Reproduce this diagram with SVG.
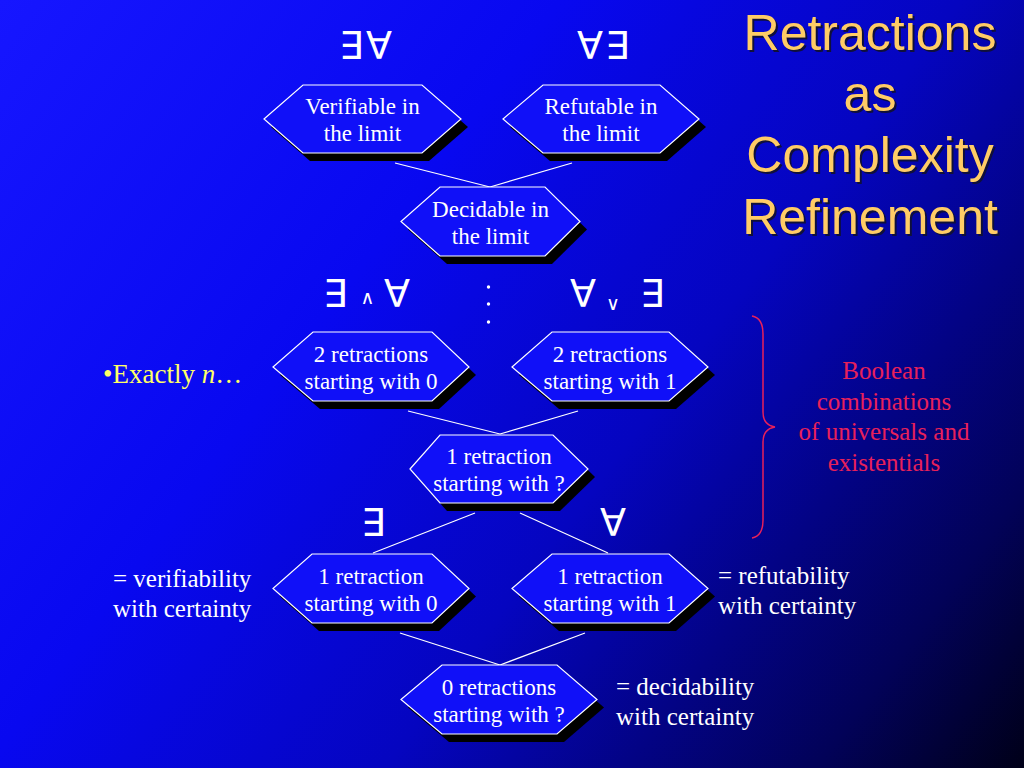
<svg xmlns="http://www.w3.org/2000/svg" width="1024" height="768" viewBox="0 0 1024 768">
<defs>
<linearGradient id="bg" gradientUnits="userSpaceOnUse" x1="0" y1="0" x2="1024" y2="768">
<stop offset="0" stop-color="#1616ff"/>
<stop offset="0.35" stop-color="#0808f0"/>
<stop offset="0.6" stop-color="#0505c0"/>
<stop offset="0.75" stop-color="#030385"/>
<stop offset="0.87" stop-color="#020258"/>
<stop offset="1" stop-color="#000018"/>
</linearGradient>
<style>
.hex{fill:#1010f8;stroke:#ffffff;stroke-width:1.2}
.sh{fill:#000000}
.nt{font-family:"Liberation Serif","Times New Roman",serif;font-size:23px;fill:#ffffff;text-anchor:middle}
.side{font-family:"Liberation Serif","Times New Roman",serif;font-size:25px;fill:#ffffff}
.q{font-family:"DejaVu Sans",sans-serif;font-size:38px;fill:#ffffff;text-anchor:middle}
.op{font-family:"DejaVu Sans",sans-serif;font-size:19px;fill:#ffffff;text-anchor:middle}
.title{font-family:"Liberation Sans",Arial,sans-serif;font-size:50px;fill:#ffcc66;text-anchor:middle}
.tsh{font-family:"Liberation Sans",Arial,sans-serif;font-size:50px;fill:#10103a;text-anchor:middle}
.red{font-family:"Liberation Serif","Times New Roman",serif;font-size:25px;fill:#e8205a;text-anchor:middle}
.conn line{stroke:#ffffff;stroke-width:1.2}
</style>
</defs>
<rect x="0" y="0" width="1024" height="768" fill="url(#bg)"/>

<g id="title">
<text class="tsh" x="872" y="52">Retractions</text>
<text class="tsh" x="872" y="113">as</text>
<text class="tsh" x="872" y="174">Complexity</text>
<text class="tsh" x="872" y="236">Refinement</text>
<text class="title" x="870" y="50">Retractions</text>
<text class="title" x="870" y="111">as</text>
<text class="title" x="870" y="172">Complexity</text>
<text class="title" x="870" y="234">Refinement</text>
</g>

<g id="connectors" class="conn">
<line x1="395" y1="163" x2="490" y2="187"/>
<line x1="572" y1="163" x2="490" y2="187"/>
<line x1="408" y1="411" x2="500" y2="434"/>
<line x1="578" y1="411" x2="500" y2="434"/>
<line x1="475" y1="513" x2="373" y2="553"/>
<line x1="520" y1="513" x2="608" y2="553"/>
<line x1="400" y1="633" x2="500" y2="665"/>
<line x1="585" y1="633" x2="500" y2="665"/>
</g>

<g id="quantifiers">
<text class="q" x="351" y="59">∃</text>
<text class="q" x="379" y="59">∀</text>
<text class="q" x="590" y="59">∀</text>
<text class="q" x="617" y="59">∃</text>
<text class="q" x="335" y="307">∃</text>
<text class="op" x="367.5" y="304">∧</text>
<text class="q" x="397" y="307">∀</text>
<text class="q" x="583" y="307">∀</text>
<text class="op" x="613" y="310">∨</text>
<text class="q" x="652" y="307">∃</text>
<circle cx="488.5" cy="287" r="1.7" fill="#ffffff"/>
<circle cx="488.5" cy="304" r="1.7" fill="#ffffff"/>
<circle cx="488.5" cy="322" r="1.7" fill="#ffffff"/>
<text class="q" x="373" y="536">∃</text>
<text class="q" x="613" y="536">∀</text>
</g>

<g id="n-verifiable">
<polygon class="sh" transform="translate(7,8)" points="264,119 303,85 422,85 461,119 422,153 303,153"/>
<polygon class="hex" points="264,119 303,85 422,85 461,119 422,153 303,153"/>
<text class="nt" x="362.5" y="113.5">Verifiable in</text>
<text class="nt" x="362.5" y="140.5">the limit</text>
</g>
<g id="n-refutable">
<polygon class="sh" transform="translate(7,8)" points="503,119 543,85 660,85 699,119 660,153 543,153"/>
<polygon class="hex" points="503,119 543,85 660,85 699,119 660,153 543,153"/>
<text class="nt" x="601" y="113.5">Refutable in</text>
<text class="nt" x="601" y="140.5">the limit</text>
</g>
<g id="n-decidable">
<polygon class="sh" transform="translate(7,8)" points="401,221.5 440,187 545,187 580,221.5 545,256 440,256"/>
<polygon class="hex" points="401,221.5 440,187 545,187 580,221.5 545,256 440,256"/>
<text class="nt" x="490.5" y="216.5">Decidable in</text>
<text class="nt" x="490.5" y="243.5">the limit</text>
</g>
<g id="n-r2-0">
<polygon class="sh" transform="translate(7,8)" points="273,367 313,332 432,332 469,367 432,401 313,401"/>
<polygon class="hex" points="273,367 313,332 432,332 469,367 432,401 313,401"/>
<text class="nt" x="371" y="362">2 retractions</text>
<text class="nt" x="371" y="389">starting with 0</text>
</g>
<g id="n-r2-1">
<polygon class="sh" transform="translate(7,8)" points="512,367 552,332 669,332 708,367 669,401 552,401"/>
<polygon class="hex" points="512,367 552,332 669,332 708,367 669,401 552,401"/>
<text class="nt" x="610" y="362">2 retractions</text>
<text class="nt" x="610" y="389">starting with 1</text>
</g>
<g id="n-r1-q">
<polygon class="sh" transform="translate(7,8)" points="410,469 440,435 553,435 588,469 553,503 440,503"/>
<polygon class="hex" points="410,469 440,435 553,435 588,469 553,503 440,503"/>
<text class="nt" x="499" y="464">1 retraction</text>
<text class="nt" x="499" y="491">starting with ?</text>
</g>
<g id="n-r1-0">
<polygon class="sh" transform="translate(7,8)" points="273,588.5 312,554 432,554 469,588.5 432,623 312,623"/>
<polygon class="hex" points="273,588.5 312,554 432,554 469,588.5 432,623 312,623"/>
<text class="nt" x="371" y="583.5">1 retraction</text>
<text class="nt" x="371" y="610.5">starting with 0</text>
</g>
<g id="n-r1-1">
<polygon class="sh" transform="translate(7,8)" points="512,588.5 552,554 669,554 708,588.5 669,623 552,623"/>
<polygon class="hex" points="512,588.5 552,554 669,554 708,588.5 669,623 552,623"/>
<text class="nt" x="610" y="583.5">1 retraction</text>
<text class="nt" x="610" y="610.5">starting with 1</text>
</g>
<g id="n-r0-q">
<polygon class="sh" transform="translate(7,8)" points="401,699.5 442,665 557,665 597,699.5 557,734 442,734"/>
<polygon class="hex" points="401,699.5 442,665 557,665 597,699.5 557,734 442,734"/>
<text class="nt" x="499" y="694.5">0 retractions</text>
<text class="nt" x="499" y="721.5">starting with ?</text>
</g>

<g id="labels">
<text x="103" y="383" font-family="'Liberation Serif','Times New Roman',serif" font-size="27" fill="#ffff66">•Exactly <tspan font-style="italic">n</tspan>…</text>
<text class="side" x="113" y="587">= verifiability</text>
<text class="side" x="113" y="617">with certainty</text>
<text class="side" x="718" y="584">= refutability</text>
<text class="side" x="718" y="614">with certainty</text>
<text class="side" x="616" y="695">= decidability</text>
<text class="side" x="616" y="725">with certainty</text>
</g>

<g id="boolean">
<path d="M752,316 Q763,318 763,334 L763,412 Q763,425 775,427 Q763,429 763,442 L763,520 Q763,536 752,538" fill="none" stroke="#e8205a" stroke-width="1.5"/>
<text class="red" x="884" y="379">Boolean</text>
<text class="red" x="884" y="410">combinations</text>
<text class="red" x="884" y="440">of universals and</text>
<text class="red" x="884" y="471">existentials</text>
</g>
</svg>
